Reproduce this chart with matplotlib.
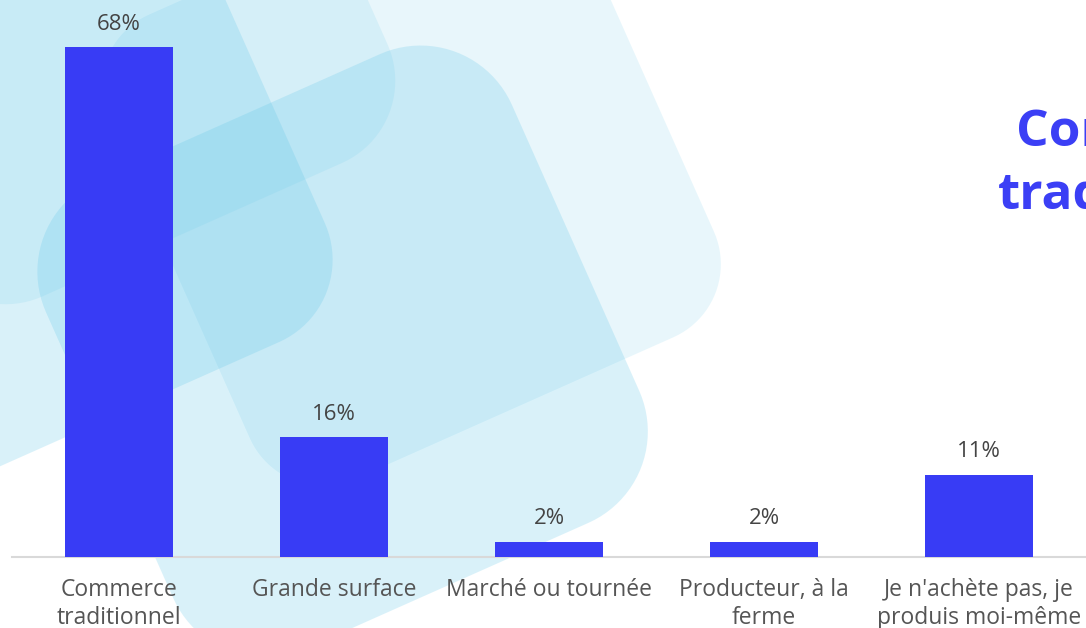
import numpy as np
import matplotlib
matplotlib.use("Agg")
import matplotlib.pyplot as plt
from matplotlib.patches import Polygon

categories = ["Commerce\ntraditionnel", "Grande surface", "Marché ou tournée",
              "Producteur, à la\nferme", "Je n'achète pas, je\nproduis moi-même"]
values = [68, 16, 2, 2, 11]
value_labels = ["68%", "16%", "2%", "2%", "11%"]
title_lines = ["Commerce", "traditionnel"]

BAR = "#383cf5"
TITLE = "#3b3ff5"
FONT = "Open Sans"
plt.rcParams["font.family"] = [FONT, "DejaVu Sans"]

W, H = 1086, 628
fig = plt.figure(figsize=(W / 100, H / 100), dpi=100)
fig.patch.set_facecolor("white")

# ---- decorative background: rotated rounded squares ----
bg = fig.add_axes([0, 0, 1, 1], zorder=0)
bg.set_xlim(0, W)
bg.set_ylim(H, 0)
bg.axis("off")

th = np.deg2rad(24)
avec = np.array([np.sin(th), np.cos(th)])   # steep direction
bvec = np.array([np.cos(th), -np.sin(th)])  # shallow direction


def rounded(u0, u1, v0, v1, r, n=24):
    pts = []
    corners = [(u1 - r, v0 + r, -np.pi / 2, 0),
               (u1 - r, v1 - r, 0, np.pi / 2),
               (u0 + r, v1 - r, np.pi / 2, np.pi),
               (u0 + r, v0 + r, np.pi, 1.5 * np.pi)]
    for cu, cv, t0, t1 in corners:
        t = np.linspace(t0, t1, n)
        for tt in t:
            pts.append((cu + r * np.cos(tt), cv + r * np.sin(tt)))
    pts = np.array(pts)
    xy = pts[:, 0:1] * bvec + pts[:, 1:2] * avec
    return xy


shapes = [
    ((50, 558, 74, 582), 80, 0.14),
    ((-85, 425, 204, 717), 100, 0.227),
    ((-302, 206, -82, 426), 90, 0.227),
    ((-172, 336, -220, 288), 90, 0.135),
]
for (u0, u1, v0, v1), r, al in shapes:
    bg.add_patch(Polygon(rounded(u0, u1, v0, v1, r), closed=True,
                         facecolor="#5cc5e8", edgecolor="none", alpha=al))

# ---- title (cut off at the right edge, as in the original) ----
fig.text(1016 / W, 1 - 146 / H, title_lines[0], color=TITLE, fontsize=37,
         fontweight="bold", ha="left", va="baseline", zorder=5)
fig.text(998 / W, 1 - 209 / H, title_lines[1], color=TITLE, fontsize=37,
         fontweight="bold", ha="left", va="baseline", zorder=5)

# ---- bar chart ----
base_px = 557
px_per_unit = 7.5
ax = fig.add_axes([11.5 / W, (H - base_px) / H, 1075 / W, base_px / H], zorder=2)
ax.patch.set_alpha(0)
x = np.arange(len(categories))
bars = ax.bar(x, values, width=0.5, color=BAR, zorder=3)
ax.set_xlim(-0.5, len(categories) - 0.5)
ax.set_ylim(0, base_px / px_per_unit)

for xi, v, lab in zip(x, values, value_labels):
    ax.annotate(lab, (xi, v), xytext=(0, 9), textcoords="offset points",
                ha="center", va="bottom", fontsize=16, color="#444444",
                annotation_clip=False)

ax.set_xticks(x)
ax.set_xticklabels(categories, fontsize=16.5, color="#555555", linespacing=1.22)
ax.tick_params(axis="x", length=0, pad=15)
ax.set_yticks([])
for s in ["top", "right", "left"]:
    ax.spines[s].set_visible(False)
ax.spines["bottom"].set_color("#d9d9d9")
ax.spines["bottom"].set_linewidth(1.5)

fig.savefig("out.png", dpi=100)
